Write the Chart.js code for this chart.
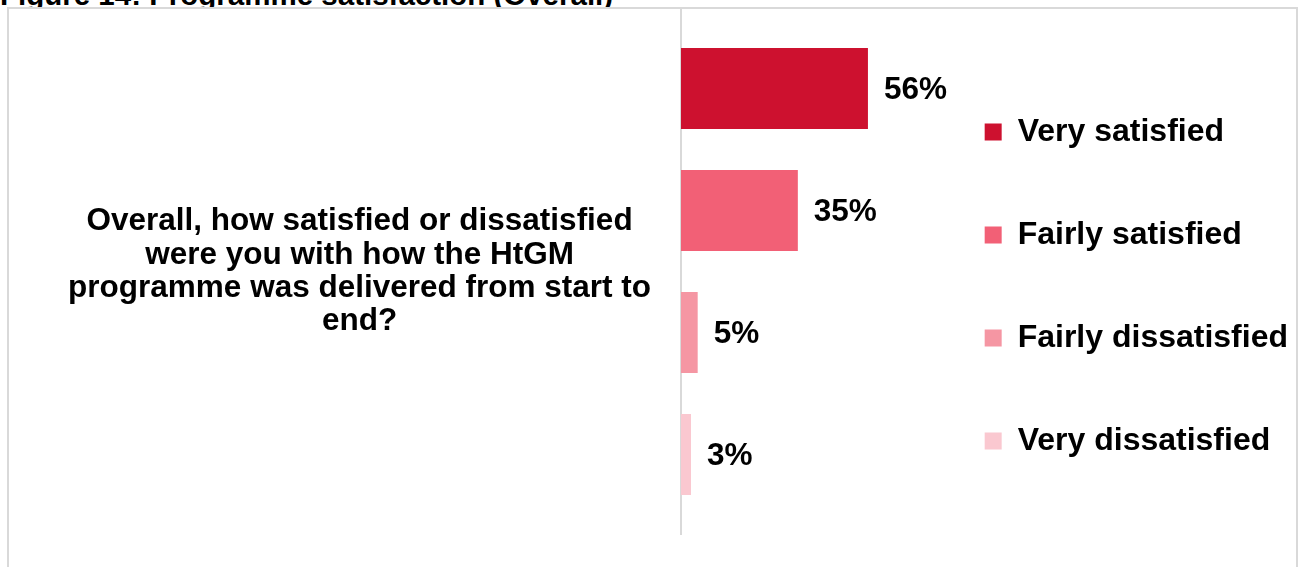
<!DOCTYPE html>
<html>
<head>
<meta charset="utf-8">
<script src="https://cdn.jsdelivr.net/npm/chart.js@4.4.0/dist/chart.umd.min.js"></script>
<style>
    body { margin: 0; background: #fff; overflow: hidden; font-family: 'Liberation Sans', Arial, sans-serif; }
    #caption {
        position: absolute; left: 0; top: -20px;
        font-weight: bold; font-size: 29.5px; line-height: 29.5px; white-space: nowrap;
    }
    #frame {
        position: absolute; left: 7px; top: 7px; width: 1291px; height: 580px;
        box-sizing: border-box; border: 2px solid #d9d9d9; background: #fff;
    }
    #holder { position: relative; width: 1287px; height: 560px; }
</style>
</head>
<body>
<div id="caption">Figure 14: Programme satisfaction (Overall)</div>
<div id="frame"><div id="holder"><canvas id="barChart"></canvas></div></div>
<script>
// survey question shown as the single category
var questions = [[
    'Overall, how satisfied or dissatisfied',
    'were you with how the HtGM',
    'programme was delivered from start to',
    'end?'
]];
var answers = ['Very satisfied', 'Fairly satisfied', 'Fairly dissatisfied', 'Very dissatisfied'];
var verySatisfied = [56];
var fairlySatisfied = [35];
var fairlyDissatisfied = [5];
var veryDissatisfied = [3];

var colours = ['#cd112f', '#f26076', '#f596a3', '#fac8d0'];
var fontFamily = "'Liberation Sans', Arial, sans-serif";

// percentages written just past the end of each bar
var valueLabels = {
    id: 'valueLabels',
    afterDatasetsDraw: function(chart) {
        var ctx = chart.ctx;
        ctx.save();
        ctx.font = 'bold 31.5px ' + fontFamily;
        ctx.fillStyle = '#000';
        ctx.textAlign = 'left';
        ctx.textBaseline = 'middle';
        chart.data.datasets.forEach(function(ds, i) {
            chart.getDatasetMeta(i).data.forEach(function(bar, j) {
                ctx.fillText(ds.data[j] + '%', bar.x + 16, bar.y + 2);
            });
        });
        ctx.restore();
    }
};

var seriesValues = [verySatisfied, fairlySatisfied, fairlyDissatisfied, veryDissatisfied];

var ctx = document.getElementById('barChart').getContext('2d');
new Chart(ctx, {
    type: 'bar',
    data: {
        labels: questions,
        datasets: answers.map(function(name, i) {
            return {
                label: name,
                data: seriesValues[i],
                backgroundColor: colours[i],
                borderWidth: 0
            };
        })
    },
    options: {
        indexAxis: 'y',
        responsive: true,
        maintainAspectRatio: false,
        animation: false,
        layout: { padding: { top: 0, right: -2, bottom: 35, left: 0 } },
        datasets: {
            bar: { categoryPercentage: 0.93, barPercentage: 0.664 }
        },
        scales: {
            x: {
                display: false,
                min: 0,
                max: 69.7
            },
            y: {
                grid: { display: false, drawTicks: false },
                border: { display: true, color: '#d9d9d9', width: 2 },
                ticks: {
                    color: '#000',
                    padding: 30,
                    crossAlign: 'center',
                    font: { family: fontFamily, size: 31.5, weight: 'bold', lineHeight: 1.057 }
                },
                afterFit: function(scale) {
                    // fixed label column; the tall label must not shrink the plot area
                    scale.width = 672;
                    scale.paddingTop = 0;
                    scale.paddingBottom = 0;
                }
            }
        },
        plugins: {
            tooltip: { enabled: false },
            legend: {
                position: 'right',
                maxWidth: 600,
                title: { display: true, text: ' ', padding: 0, font: { size: 30, lineHeight: 1 } },
                labels: {
                    color: '#000',
                    boxWidth: 17,
                    boxHeight: 17,
                    padding: 71,
                    font: { family: fontFamily, size: 32, weight: 'bold' }
                }
            }
        }
    },
    plugins: [valueLabels]
});
</script>
</body>
</html>
